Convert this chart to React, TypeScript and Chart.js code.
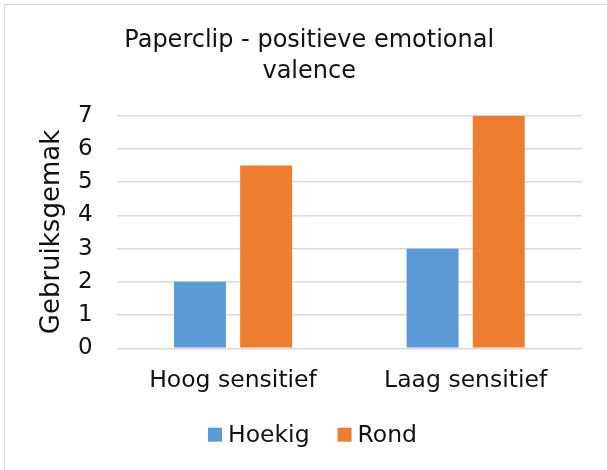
import React, { useEffect, useRef } from "react";
import { Chart, registerables } from "chart.js";

Chart.register(...registerables);

const categories = ["Hoog sensitief", "Laag sensitief"];
const hoekigValues = [2, 3];
const rondValues = [5.5, 7];
const seriesNames = ["Hoekig", "Rond"];
const seriesColors = ["#5B9BD5", "#ED7D31"];
const titleLines = ["Paperclip - positieve emotional", "valence"];
const yAxisTitle = "Gebruiksgemak";

const FONT = "'DejaVu Sans', Verdana, sans-serif";
const TEXT = "#111111";
const GRID = "#d9d9d9";

// Legend drawn under the axis labels: small square, short gap, label.
const bottomLegend = {
  id: "bottomLegend",
  afterDraw(chart: any) {
    const ctx = chart.ctx as CanvasRenderingContext2D;
    const box = 14;
    const gap = 6;
    const itemGap = 28;
    const baseline = 436.7;
    ctx.save();
    ctx.font = `23.5px ${FONT}`;
    const items = chart.data.datasets.map((d: any) => ({
      label: d.label as string,
      color: d.backgroundColor as string,
      w: ctx.measureText(d.label).width,
    }));
    const total =
      items.reduce((s: number, it: any) => s + box + gap + it.w, 0) +
      itemGap * (items.length - 1);
    let x = chart.width / 2 + 5 - total / 2;
    ctx.textBaseline = "alphabetic";
    ctx.textAlign = "left";
    for (const it of items) {
      ctx.fillStyle = it.color;
      ctx.fillRect(x, baseline - box, box, box);
      ctx.fillStyle = TEXT;
      ctx.fillText(it.label, x + box + gap, baseline);
      x += box + gap + it.w + itemGap;
    }
    ctx.restore();
  },
};

export default function App() {
  const canvasRef = useRef<HTMLCanvasElement | null>(null);

  useEffect(() => {
    if (!canvasRef.current) return;
    const chart = new Chart(canvasRef.current, {
      type: "bar",
      data: {
        labels: categories,
        datasets: [
          {
            label: seriesNames[0],
            data: hoekigValues,
            backgroundColor: seriesColors[0],
            borderWidth: 0,
            categoryPercentage: 0.569,
            barPercentage: 0.785,
          },
          {
            label: seriesNames[1],
            data: rondValues,
            backgroundColor: seriesColors[1],
            borderWidth: 0,
            categoryPercentage: 0.569,
            barPercentage: 0.785,
          },
        ],
      },
      options: {
        responsive: false,
        animation: false,
        layout: { padding: { top: 0, left: 31.4, right: 28, bottom: 0 } },
        plugins: {
          legend: { display: false },
          tooltip: { enabled: false },
          title: {
            display: true,
            text: titleLines,
            color: TEXT,
            font: { family: FONT, size: 24, weight: "normal", lineHeight: 1.28 },
            padding: { top: 20.6, bottom: 28.7 },
          },
        },
        scales: {
          x: {
            grid: { display: false, drawTicks: false },
            border: { display: false },
            ticks: {
              color: TEXT,
              font: { family: FONT, size: 23.5 },
              padding: 18.8,
              maxRotation: 0,
            },
            afterFit: (s: any) => {
              s.height = 124.7;
            },
          },
          y: {
            min: 0,
            max: 7,
            ticks: {
              stepSize: 1,
              color: TEXT,
              font: { family: FONT, size: 23 },
              padding: 24,
            },
            grid: { color: GRID, lineWidth: 1.6, drawTicks: false },
            border: { display: false },
            title: {
              display: true,
              text: yAxisTitle,
              color: TEXT,
              font: { family: FONT, size: 26 },
              padding: { top: 0, bottom: 0 },
            },
            afterFit: (s: any) => {
              s.width = 80.3;
            },
          },
        },
      },
      plugins: [bottomLegend],
    });
    return () => chart.destroy();
  }, []);

  return (
    <div
      style={{
        position: "fixed",
        left: 0,
        top: 0,
        width: 607,
        height: 470,
        overflow: "hidden",
        background: "#ffffff",
      }}
    >
      <div
        style={{
          position: "absolute",
          left: 4,
          top: 4,
          width: 607,
          height: 470,
          boxSizing: "border-box",
          border: `1px solid ${GRID}`,
          background: "#ffffff",
        }}
      >
        <canvas ref={canvasRef} width={605} height={468} style={{ display: "block" }} />
      </div>
    </div>
  );
}
